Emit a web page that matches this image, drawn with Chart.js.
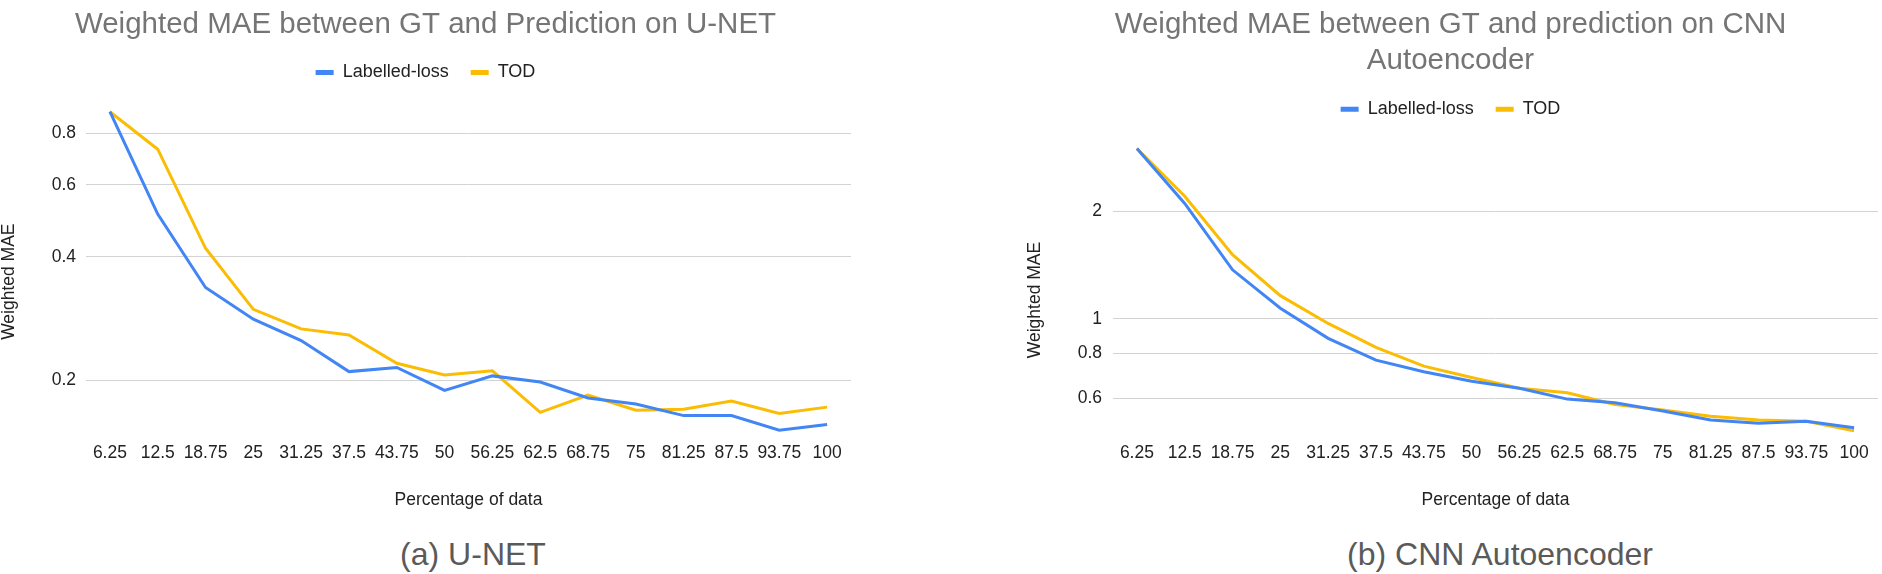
<!DOCTYPE html>
<html>
<head>
<meta charset="utf-8">
<script src="https://cdn.jsdelivr.net/npm/chart.js@4"></script>
<style>
  body { margin: 0; background: #fff; width: 1882px; height: 574px; position: relative; overflow: hidden;
         font-family: "Liberation Sans", Arial, sans-serif; }
  .box { position: absolute; top: 0; width: 856px; height: 511px; }
  .cap { position: absolute; top: 535px; width: 400px; text-align: center; font-size: 32px; line-height: 38px; color: #5a5a5a; }
</style>
</head>
<body>
<div class="box" style="left:0"><canvas id="unet"></canvas></div>
<div class="box" style="left:1023px"><canvas id="cnn"></canvas></div>
<div class="cap" style="left:273px">(a) U-NET</div>
<div class="cap" style="left:1300px">(b) CNN Autoencoder</div>
<script>
const percentages = ['6.25', '12.5', '18.75', '25', '31.25', '37.5', '43.75', '50',
                     '56.25', '62.5', '68.75', '75', '81.25', '87.5', '93.75', '100'];

// U-NET
const unetLabelled = [0.905, 0.509, 0.337, 0.282, 0.250, 0.210, 0.215, 0.189, 0.205, 0.198, 0.181, 0.175, 0.164, 0.164, 0.151, 0.156];
const unetTod      = [0.905, 0.733, 0.420, 0.298, 0.267, 0.258, 0.220, 0.206, 0.211, 0.167, 0.184, 0.169, 0.170, 0.178, 0.166, 0.172];
const unetTicks = [0.2, 0.4, 0.6, 0.8];

// CNN Autoencoder
const cnnLabelled = [2.99, 2.10, 1.37, 1.07, 0.881, 0.766, 0.711, 0.669, 0.639, 0.596, 0.582, 0.552, 0.521, 0.510, 0.517, 0.496];
const cnnTod      = [2.99, 2.20, 1.51, 1.16, 0.970, 0.832, 0.737, 0.685, 0.639, 0.621, 0.576, 0.556, 0.534, 0.521, 0.517, 0.486];
const cnnTicks = [0.6, 0.8, 1, 2];

const FONT = '"Liberation Sans", Arial, sans-serif';
const BLUE = '#4285f4';
const YELLOW = '#fbbc04';
const INK = '#222222';

// extra room under the legend, before the plot area
function legendGap(px) {
  return {
    id: 'legendGap',
    beforeInit(chart) {
      const fit = chart.legend.fit;
      chart.legend.fit = function () { fit.call(this); this.height += px; };
    }
  };
}

// y axis title, sitting a little below the middle of the plot like the original
const yTitle = {
  id: 'yTitle',
  afterDraw(chart, args, opts) {
    const { ctx, chartArea } = chart;
    ctx.save();
    ctx.translate(opts.x, (chartArea.top + chartArea.bottom) / 2 + opts.shift);
    ctx.rotate(-Math.PI / 2);
    ctx.font = '17.5px ' + FONT;
    ctx.fillStyle = INK;
    ctx.textAlign = 'center';
    ctx.textBaseline = 'middle';
    ctx.fillText(opts.text, 0, 0);
    ctx.restore();
  }
};

function makeChart(id, title, labelled, tod, ticks, o) {
  return new Chart(document.getElementById(id), {
    type: 'line',
    data: {
      labels: percentages,
      datasets: [
        { label: 'Labelled-loss', data: labelled, borderColor: BLUE, backgroundColor: BLUE },
        { label: 'TOD', data: tod, borderColor: YELLOW, backgroundColor: YELLOW }
      ]
    },
    options: {
      responsive: true,
      maintainAspectRatio: false,
      animation: false,
      layout: { padding: { left: 0, right: o.right, top: 0, bottom: 0 } },
      elements: { point: { radius: 0 }, line: { borderWidth: 3, tension: 0 } },
      plugins: {
        title: {
          display: true, text: title, color: '#757575',
          font: { family: FONT, size: 29.5, weight: 'normal', lineHeight: o.titleLine },
          padding: { top: 7.5, bottom: 0 }
        },
        legend: {
          labels: {
            color: INK, font: { family: FONT, size: 18 }, boxWidth: 18, boxHeight: 5, padding: 22,
            generateLabels: chart => Chart.defaults.plugins.legend.labels.generateLabels(chart)
              .map(item => Object.assign(item, { lineWidth: 0 }))
          }
        },
        tooltip: { enabled: false },
        yTitle: { text: 'Weighted MAE', x: o.titleX, shift: 9 }
      },
      scales: {
        x: {
          offset: true,
          grid: { display: false, drawTicks: false },
          border: { display: false },
          ticks: { color: INK, font: { family: FONT, size: 17.5 }, autoSkip: false, maxRotation: 0, padding: 5 },
          title: { display: true, text: 'Percentage of data', color: INK, font: { family: FONT, size: 17.5 }, padding: 0 },
          afterFit: s => { s.height = 73.5; }
        },
        y: {
          type: 'logarithmic',
          min: o.min,
          max: o.max,
          grid: { color: '#d3d3d3', drawTicks: false },
          border: { display: false },
          ticks: { color: INK, font: { family: FONT, size: 17.5 }, padding: o.tickPad, callback: v => String(v) },
          afterBuildTicks: s => { s.ticks = ticks.map(v => ({ value: v })); },
          afterFit: s => { s.width = o.axisWidth; }
        }
      }
    },
    plugins: [legendGap(o.gap), yTitle]
  });
}

makeChart('unet', 'Weighted MAE between GT and Prediction on U-NET', unetLabelled, unetTod, unetTicks,
  { min: 0.145, max: 0.925, right: 5, axisWidth: 86, tickPad: 10, titleX: 9.6, titleLine: 1.15, gap: 16.4 });

makeChart('cnn', ['Weighted MAE between GT and prediction on CNN', 'Autoencoder'], cnnLabelled, cnnTod, cnnTicks,
  { min: 0.4655, max: 3.069, right: 1, axisWidth: 90, tickPad: 11, titleX: 12.6, titleLine: 1.2, gap: 16.2 });
</script>
</body>
</html>
